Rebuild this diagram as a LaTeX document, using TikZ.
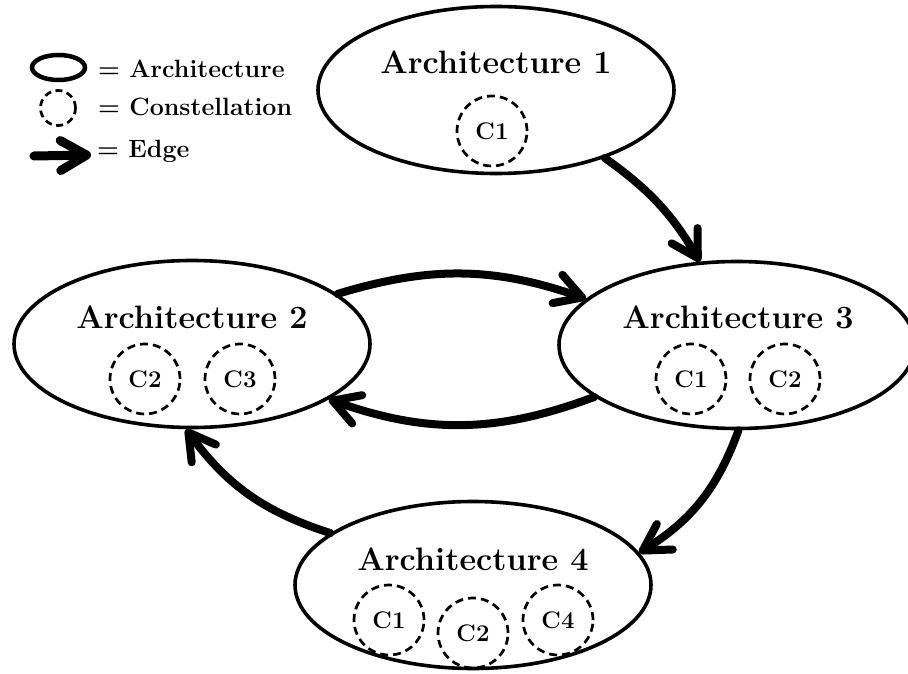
\documentclass[tikz,border=0pt]{standalone}
\usetikzlibrary{shapes.geometric,arrows.meta}
\begin{document}
\begin{tikzpicture}[x=1pt,y=1pt,
  archbox/.style={ellipse, draw, line width=3.6pt, minimum width=356pt, minimum height=167pt, inner sep=0pt},
  archtitle/.style={font=\fontsize{32.4}{38}\selectfont\bfseries, anchor=base, inner sep=0pt},
  constbox/.style={circle, draw, dash pattern=on 8pt off 5pt, line width=2.7pt, minimum size=70pt, inner sep=0pt, font=\fontsize{24}{28}\selectfont\bfseries},
  edgeline/.style={line width=8pt, line cap=round, -{Straight Barb[length=26pt,width=30pt,round]}},
  legendtext/.style={font=\fontsize{25}{30}\selectfont\bfseries, anchor=base west, inner sep=0pt}]
\useasboundingbox (0,0) rectangle (908,-674);
\clip (0,0) rectangle (908,-674);

% legend
\node[ellipse, draw, line width=4.5pt, minimum width=53pt, minimum height=25pt, inner sep=0pt] (legArch) at (58.5,-67.5) {};
\node[legendtext] (legArchText) at (98,-78) {= Architecture};
\node[circle, draw, dash pattern=on 7pt off 4.5pt, line width=2.7pt, minimum size=35pt, inner sep=0pt] (legConst) at (58,-108) {};
\node[legendtext] (legConstText) at (98,-116) {= Constellation};
\coordinate (legEdgeS) at (34,-156);
\coordinate (legEdgeE) at (91,-155);
\draw[edgeline, line width=9pt] (legEdgeS) -- (legEdgeE);
\node[legendtext] (legEdgeText) at (97,-158) {= Edge};

% architectures
\node[archbox] (a1) at (496,-90) {};
\node[archtitle] (a1t) at (496,-74) {Architecture 1};
\node[constbox] (a1c1) at (492,-131) {C1};

\node[archbox] (a2) at (192,-344) {};
\node[archtitle] (a2t) at (192,-328) {Architecture 2};
\node[constbox] (a2c2) at (145,-379) {C2};
\node[constbox] (a2c3) at (240,-379) {C3};

\node[archbox] (a3) at (737,-345) {};
\node[archtitle] (a3t) at (738,-328) {Architecture 3};
\node[constbox] (a3c1) at (691,-379) {C1};
\node[constbox] (a3c2) at (785,-379) {C2};

\node[archbox] (a4) at (473,-585) {};
\node[archtitle] (a4t) at (473,-570) {Architecture 4};
\node[constbox] (a4c1) at (389,-620) {C1};
\node[constbox] (a4c2) at (473,-633) {C2};
\node[constbox] (a4c4) at (558,-620) {C4};

% edges
\draw[edgeline] (a1.-32) to[bend left=12] (a3.114);
\draw[edgeline] (a2.19) to[bend left=18] (a3.163);
\draw[edgeline] (a3.200) to[bend left=20] (a2.-22);
\draw[edgeline] (a3.-89) to[bend left=19] (a4.11);
\draw[edgeline] (a4.160) to[bend left=18] (a2.-94);
\end{tikzpicture}
\end{document}
